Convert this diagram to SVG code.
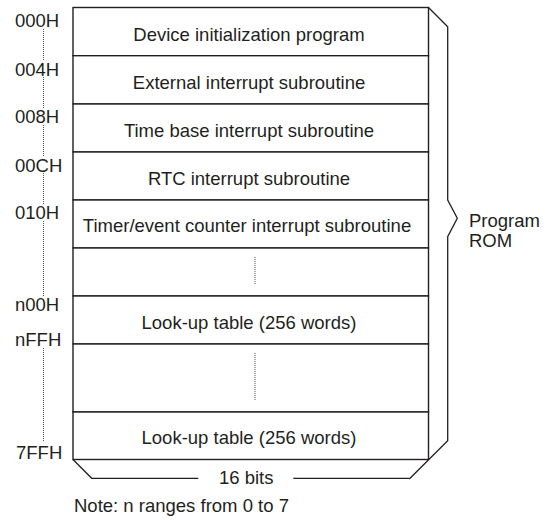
<svg xmlns="http://www.w3.org/2000/svg" width="547" height="520" viewBox="0 0 547 520">
<style>
text{font-family:"Liberation Sans",Arial,sans-serif;font-size:18.5px;fill:#231f20}
.c{text-anchor:middle}
.row{fill:#fff;stroke:#231f20;stroke-width:1.4}
.ln{fill:none;stroke:#231f20;stroke-width:1.3}
.dot{fill:none;stroke:#555;stroke-width:1;stroke-dasharray:1,1}
</style>
<rect width="547" height="520" fill="#fff"/>
<g id="rows">
<g id="r1"><rect class="row" x="73" y="7.5" width="355.5" height="48.2"/><text class="c" x="249" y="40.5">Device initialization program</text></g>
<g id="r2"><rect class="row" x="73" y="55.7" width="355.5" height="48.3"/><text class="c" x="249" y="88.7">External interrupt subroutine</text></g>
<g id="r3"><rect class="row" x="73" y="104" width="355.5" height="48"/><text class="c" x="249" y="137">Time base interrupt subroutine</text></g>
<g id="r4"><rect class="row" x="73" y="152" width="355.5" height="48"/><text class="c" x="249" y="185">RTC interrupt subroutine</text></g>
<g id="r5"><rect class="row" x="73" y="200" width="355.5" height="48"/><text class="c" x="247" y="232">Timer/event counter interrupt subroutine</text></g>
<g id="r6"><rect class="row" x="73" y="248" width="355.5" height="48"/><line class="dot" x1="255" y1="257" x2="255" y2="284"/></g>
<g id="r7"><rect class="row" x="73" y="296" width="355.5" height="48"/><text class="c" x="249" y="329">Look-up table (256 words)</text></g>
<g id="r8"><rect class="row" x="73" y="344" width="355.5" height="68"/><line class="dot" x1="255" y1="353" x2="255" y2="401"/></g>
<g id="r9"><rect class="row" x="73" y="412" width="355.5" height="47.5"/><text class="c" x="249" y="444">Look-up table (256 words)</text></g>
</g>
<g id="addresses">
<text x="15" y="27.3">000H</text>
<text x="15" y="75.7">004H</text>
<text x="15" y="123.3">008H</text>
<text x="15" y="171.7">00CH</text>
<text x="15" y="219.3">010H</text>
<text x="15" y="311">n00H</text>
<text x="15" y="346">nFFH</text>
<text x="16" y="459.3">7FFH</text>
<line class="dot" x1="43.5" y1="29" x2="43.5" y2="61"/>
<line class="dot" x1="43.5" y1="77" x2="43.5" y2="109"/>
<line class="dot" x1="43.5" y1="125" x2="43.5" y2="157"/>
<line class="dot" x1="43.5" y1="173" x2="43.5" y2="205"/>
<line class="dot" x1="43.5" y1="221" x2="43.5" y2="296"/>
<line class="dot" x1="43.5" y1="348" x2="43.5" y2="442"/>
</g>
<g id="connectors">
<polyline class="ln" points="428.5,7.5 447.7,26.7 447.7,200 457.3,218.3 447.7,236.7 447.7,440.7 409.3,479"/>
<polyline class="ln" points="73,459.5 91.7,478.3 198.3,478.3"/>
<line class="ln" x1="293.3" y1="478.3" x2="409.3" y2="478.3"/>
</g>
<g id="labels">
<text x="469" y="227">Program</text>
<text x="469" y="247">ROM</text>
<text x="219" y="484.3">16 bits</text>
<text x="74" y="511.7">Note: n ranges from 0 to 7</text>
</g>
</svg>
